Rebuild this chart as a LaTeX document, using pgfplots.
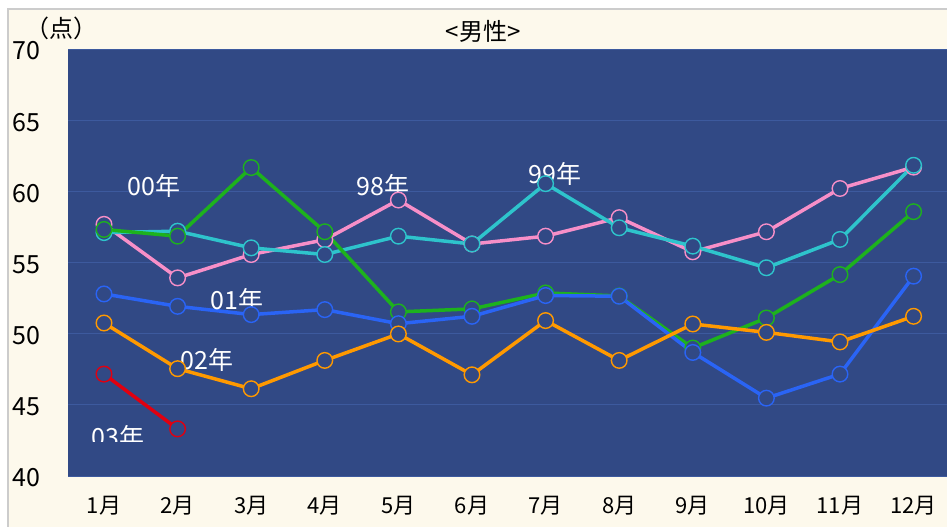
\documentclass[border=0pt]{standalone}
\usepackage{fontspec}
\setmainfont{Noto Sans CJK JP}
\usepackage{pgfplots}
\pgfplotsset{compat=1.18}
\definecolor{plotblue}{HTML}{314985}
\definecolor{cream}{HTML}{FDF9EC}
\definecolor{gridc}{HTML}{3D5A9E}
\definecolor{cpink}{HTML}{F78FC8}
\definecolor{ccyan}{HTML}{2EC4CC}
\definecolor{cgreen}{HTML}{1DB21D}
\definecolor{cblue}{HTML}{2A64F5}
\definecolor{corange}{HTML}{FF9900}
\definecolor{cred}{HTML}{E00010}
\begin{document}
\begin{tikzpicture}
\path[use as bounding box] (0,0) rectangle (947pt,527pt);
\fill[white] (0,0) rectangle (947pt,527pt);
\fill[cream] (8pt,0) rectangle (947pt,518pt);
\draw[black!20, line width=1.5pt] (8pt,0) -- (8pt,518pt) -- (947pt,518pt);
\node[font=\fontsize{24}{27}\selectfont] at (61pt,499pt) {（点）};
\node[font=\fontsize{24}{27}\selectfont] at (483pt,496pt) {<男性>};
\begin{axis}[
  at={(68pt,51pt)}, anchor=south west,
  width=879pt, height=427pt, scale only axis,
  xmin=0.511, xmax=12.454, ymin=40, ymax=70,
  axis background/.style={fill=plotblue},
  axis line style={draw=none},
  major tick length=0pt,
  xtick={1,...,12},
  xticklabels={1月,2月,3月,4月,5月,6月,7月,8月,9月,10月,11月,12月},
  ytick={40,45,50,55,60,65,70},
  yticklabels={40,45,50,55,60,65,70},
  ymajorgrids, major grid style={gridc, line width=0.8pt},
  xticklabel style={font=\fontsize{22}{25}\selectfont, yshift=-17pt},
  yticklabel style={font=\fontsize{25}{28}\selectfont, xshift=-24pt, yshift=-2pt},
  every axis plot/.append style={line width=3.5pt, mark=*, mark size=7.8pt},
  clip=false,
]
\addplot[cpink, mark options={fill=plotblue, draw=cpink, line width=1.4pt}] coordinates {
(1,57.68) (2,53.92) (3,55.56) (4,56.6) (5,59.39) (6,56.3) (7,56.85) (8,58.15) (9,55.75) (10,57.16) (11,60.2) (12,61.7)};
\addplot[ccyan, mark options={fill=plotblue, draw=ccyan, line width=1.4pt}] coordinates {
(1,57.1) (2,57.2) (3,56.03) (4,55.56) (5,56.85) (6,56.3) (7,60.54) (8,57.44) (9,56.15) (10,54.63) (11,56.62) (12,61.83)};
\addplot[cgreen, mark options={fill=plotblue, draw=cgreen, line width=1.4pt}] coordinates {
(1,57.32) (2,56.85) (3,61.67) (4,57.16) (5,51.53) (6,51.74) (7,52.86) (8,52.65) (9,48.99) (10,51.1) (11,54.15) (12,58.57)};
\addplot[cblue, mark options={fill=plotblue, draw=cblue, line width=1.4pt}] coordinates {
(1,52.79) (2,51.92) (3,51.34) (4,51.69) (5,50.7) (6,51.22) (7,52.68) (8,52.63) (9,48.68) (10,45.47) (11,47.16) (12,54.04)};
\addplot[corange, mark options={fill=plotblue, draw=corange, line width=1.4pt}] coordinates {
(1,50.75) (2,47.54) (3,46.13) (4,48.12) (5,49.98) (6,47.11) (7,50.92) (8,48.12) (9,50.68) (10,50.09) (11,49.42) (12,51.22)};
\addplot[cred, mark options={fill=plotblue, draw=cred, line width=1.4pt}] coordinates {
(1,47.16) (2,43.31)};
\node[white, font=\fontsize{25}{28}\selectfont] at (axis cs:1.68,60.35) {00年};
\node[white, font=\fontsize{25}{28}\selectfont] at (axis cs:4.79,60.35) {98年};
\node[white, font=\fontsize{25}{28}\selectfont] at (axis cs:7.13,61.2) {99年};
\node[white, font=\fontsize{25}{28}\selectfont] at (axis cs:2.81,52.4) {01年};
\node[white, font=\fontsize{25}{28}\selectfont] at (axis cs:2.40,48.17) {02年};
\node[white, font=\fontsize{25}{28}\selectfont] at (axis cs:1.19,42.72) {03年};
\fill[plotblue] (axis cs:0.6,41.3) rectangle (axis cs:1.9,42.42);
\end{axis}
\end{tikzpicture}
\end{document}
